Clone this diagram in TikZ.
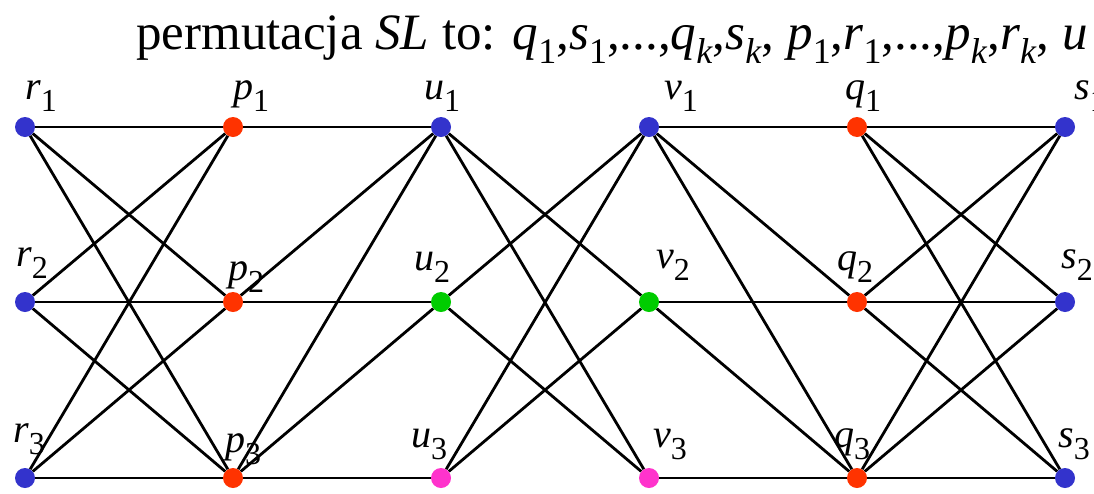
\documentclass[tikz,border=0pt]{standalone}
\usepackage{fontspec}
\setmainfont{Liberation Serif}
\newfontfamily\tms{Liberation Serif}
\newcommand{\lb}[2]{\textit{#1}\raisebox{-12pt}{\fontsize{32}{32}\selectfont #2}}
\newcommand{\tl}[2]{\textit{#1}\raisebox{-14pt}{\fontsize{36}{36}\selectfont #2}}
\definecolor{cblue}{RGB}{51,51,204}
\definecolor{cred}{RGB}{255,51,0}
\definecolor{cgreen}{RGB}{0,204,0}
\definecolor{cmag}{RGB}{255,51,204}
\tikzset{
  vtx/.style={circle,minimum size=20pt,inner sep=0pt,draw=none},
  bn/.style={vtx,fill=cblue},
  rn/.style={vtx,fill=cred},
  gn/.style={vtx,fill=cgreen},
  mn/.style={vtx,fill=cmag},
  lab/.style={anchor=base west,inner sep=0pt,font=\tms\fontsize{40}{42}\selectfont},
  edge/.style={line width=2.8pt,black}
}
\begin{document}
\begin{tikzpicture}[x=1pt,y=-1pt]
\useasboundingbox (0,0) rectangle (1094,493);
\fill[white] (0,0) rectangle (1094,493);
\node[anchor=base west,inner sep=0pt,font=\tms\fontsize{51}{55}\selectfont] (title) at (136,49)
 {permutacja \textit{SL} to: \tl{q}{1},\tl{s}{1},...,\tl{q}{\textit{k}},\tl{s}{\textit{k}}, \tl{p}{1},\tl{r}{1},...,\tl{p}{\textit{k}},\tl{r}{\textit{k}}, \textit{u}};
% vertices
\node[bn] (r1) at (25,127) {};
\node[bn] (r2) at (25,302) {};
\node[bn] (r3) at (25,478) {};
\node[rn] (p1) at (233,127) {};
\node[rn] (p2) at (233,302) {};
\node[rn] (p3) at (233,478) {};
\node[bn] (u1) at (441,127) {};
\node[gn] (u2) at (441,302) {};
\node[mn] (u3) at (441,478) {};
\node[bn] (v1) at (649,127) {};
\node[gn] (v2) at (649,302) {};
\node[mn] (v3) at (649,478) {};
\node[rn] (q1) at (857,127) {};
\node[rn] (q2) at (857,302) {};
\node[rn] (q3) at (857,478) {};
\node[bn] (s1) at (1065,127) {};
\node[bn] (s2) at (1065,302) {};
\node[bn] (s3) at (1065,478) {};
% labels
\node[lab] (lr1) at (25,99) {\lb{r}{1}};
\node[lab] (lp1) at (233,99) {\lb{p}{1}};
\node[lab] (lu1) at (424,99) {\lb{u}{1}};
\node[lab] (lv1) at (664,99) {\lb{v}{1}};
\node[lab] (lq1) at (845,99) {\lb{q}{1}};
\node[lab] (ls1) at (1074,99) {\lb{s}{1}};
\node[lab] (lr2) at (16,266) {\lb{r}{2}};
\node[lab] (lp2) at (228,280) {\lb{p}{2}};
\node[lab] (lu2) at (414,270) {\lb{u}{2}};
\node[lab] (lv2) at (656,268) {\lb{v}{2}};
\node[lab] (lq2) at (837,270) {\lb{q}{2}};
\node[lab] (ls2) at (1061,268) {\lb{s}{2}};
\node[lab] (lr3) at (13,442) {\lb{r}{3}};
\node[lab] (lp3) at (225,452) {\lb{p}{3}};
\node[lab] (lu3) at (411,447) {\lb{u}{3}};
\node[lab] (lv3) at (653,447) {\lb{v}{3}};
\node[lab] (lq3) at (834,447) {\lb{q}{3}};
\node[lab] (ls3) at (1058,447) {\lb{s}{3}};
% edges
\foreach \i in {1,2,3}{
  \foreach \j in {1,2,3}{
    \draw[edge] (r\i) -- (p\j);
    \draw[edge] (q\i) -- (s\j);
  }
}
\foreach \i/\j in {1/1,2/1,3/1,2/2,3/2,3/3}{
  \draw[edge] (p\i) -- (u\j);
}
\foreach \i/\j in {1/2,1/3,2/1,2/3,3/1,3/2}{
  \draw[edge] (u\i) -- (v\j);
}
\foreach \i/\j in {1/1,1/2,1/3,2/2,2/3,3/3}{
  \draw[edge] (v\i) -- (q\j);
}
\end{tikzpicture}
\end{document}
